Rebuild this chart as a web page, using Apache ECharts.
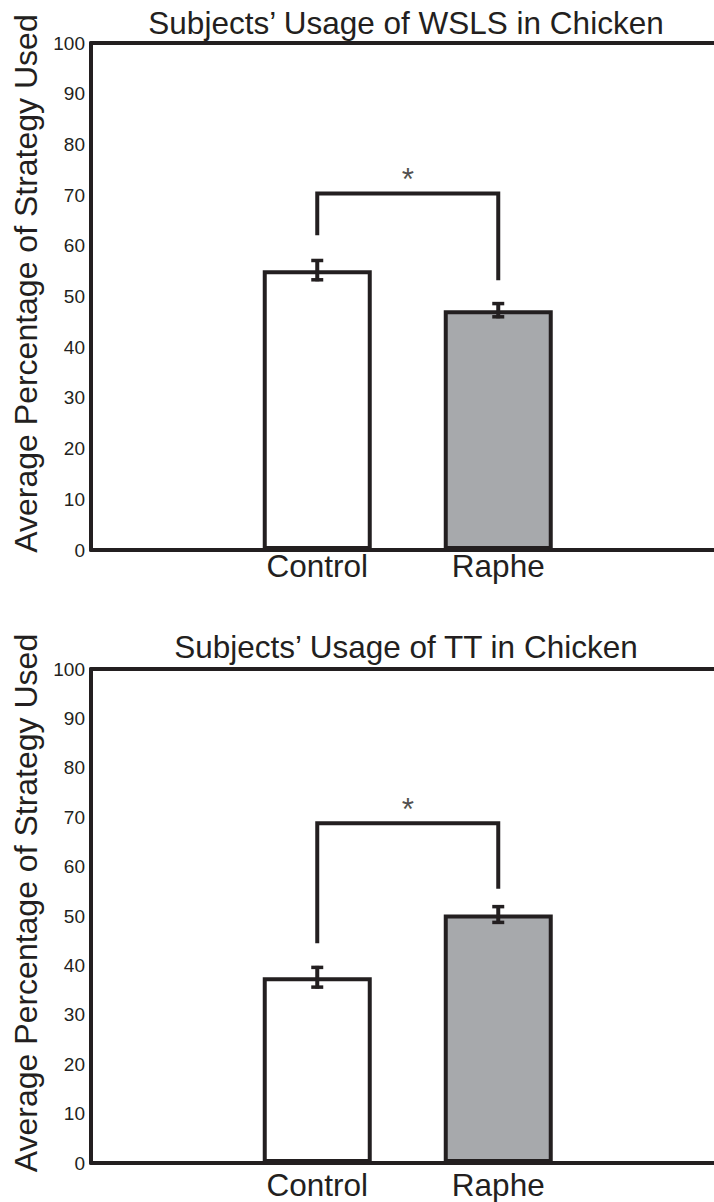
<!DOCTYPE html>
<html><head><meta charset="utf-8">
<script src="https://cdn.jsdelivr.net/npm/echarts@6/dist/echarts.min.js"></script>
<style>html,body{margin:0;padding:0;background:#fff}#c{width:714px;height:1202px}</style>
</head><body><div id="c"></div>
<script>
// ---- data ----
const categories = ['Control', 'Raphe'];
const titles = ['Subjects’ Usage of WSLS in Chicken', 'Subjects’ Usage of TT in Chicken'];
const yAxisName = 'Average Percentage of Strategy Used';
const yTicks = [0, 10, 20, 30, 40, 50, 60, 70, 80, 90, 100];
const wslsMeans = [55.2, 47.3];
const wslsErrors = [2.2, 1.6];
const wslsBracket = [62.1, 70.3, 53.2];   // left leg end, bracket height, right leg end
const ttMeans = [37.6, 50.3];
const ttErrors = [2.3, 1.9];
const ttBracket = [44.5, 68.8, 55.5];
const sigLabel = '*';

// ---- style / layout ----
const INK = '#231f20';
const FONT = '"Liberation Sans", Arial, Helvetica, sans-serif';
const BIG = 31.5;
const barFills = ['#ffffff', '#a7a9ac'];
const X_OFFSET = 1.25;               // first category position on the x value axis
const X_MAX = 623 / 181;             // axis span so that categories are 181px apart
const catX = i => i + X_OFFSET;

const panels = [
  { title: titles[0], means: wslsMeans, errors: wslsErrors, bracket: wslsBracket,
    grid: { left: 91, top: 43, width: 623, height: 507 }, titleTop: 2, catMargin: 2 },
  { title: titles[1], means: ttMeans, errors: ttErrors, bracket: ttBracket,
    grid: { left: 91, top: 669, width: 623, height: 494 }, titleTop: 626, catMargin: 8 }
];

const option = {
  animation: false,
  backgroundColor: '#ffffff',
  textStyle: { fontFamily: FONT, color: INK },
  title: panels.map(p => ({
    text: p.title, left: 401, top: p.titleTop, textAlign: 'center',
    textStyle: { fontFamily: FONT, fontSize: BIG, fontWeight: 'normal', color: INK }
  })),
  grid: panels.map(p => Object.assign({ show: false, containLabel: false }, p.grid)),
  xAxis: [],
  yAxis: panels.map((p, k) => ({
    type: 'value', gridIndex: k, min: yTicks[0], max: yTicks[yTicks.length - 1],
    interval: yTicks[1] - yTicks[0],
    name: yAxisName, nameLocation: 'middle', nameGap: 44,
    nameTextStyle: { fontFamily: FONT, fontSize: 32, color: INK, padding: [0, 0, 0, 26] },
    axisLine: { show: true, lineStyle: { color: INK, width: 4 } },
    axisTick: { show: false }, splitLine: { show: false },
    axisLabel: { fontFamily: FONT, fontSize: 19, color: INK, margin: 6 }
  })),
  series: []
};

panels.forEach((p, k) => {
  // bottom category (value) axis
  option.xAxis.push({
    type: 'value', gridIndex: k, position: 'bottom', min: 0, max: X_MAX, interval: 0.25,
    axisLine: { show: true, onZero: false, lineStyle: { color: INK, width: 4 } },
    axisTick: { show: false }, splitLine: { show: false },
    axisLabel: {
      fontFamily: FONT, fontSize: BIG, lineHeight: 28, color: INK, margin: p.catMargin, showMaxLabel: false,
      formatter: v => {
        const idx = Math.round((v - X_OFFSET) * 1000) / 1000;
        return (Number.isInteger(idx) && categories[idx] !== undefined) ? categories[idx] : '';
      }
    }
  });
  // top frame line
  option.xAxis.push({
    type: 'value', gridIndex: k, position: 'top', min: 0, max: X_MAX,
    axisLine: { show: true, onZero: false, lineStyle: { color: INK, width: 4 } },
    axisTick: { show: false }, splitLine: { show: false }, axisLabel: { show: false }
  });
});

panels.forEach((p, k) => {
  const xi = 2 * k;
  option.series.push({
    type: 'bar', xAxisIndex: xi, yAxisIndex: k, barWidth: 109, z: 2,
    itemStyle: { borderColor: INK, borderWidth: 4 },
    data: categories.map((c, i) => ({ value: [catX(i), p.means[i]], itemStyle: { color: barFills[i] } }))
  });
  option.series.push({
    type: 'custom', xAxisIndex: xi, yAxisIndex: k, z: 5,
    data: categories.map((c, i) => [catX(i), p.means[i], p.errors[i]]),
    renderItem: (params, api) => {
      const x = api.value(0), m = api.value(1), e = api.value(2);
      const t = api.coord([x, m + e]);
      const b = api.coord([x, m - e]);
      const cap = 6;
      return { type: 'group', children: [
        { type: 'line', shape: { x1: t[0], y1: t[1], x2: b[0], y2: b[1] }, style: { stroke: INK, lineWidth: 4 } },
        { type: 'line', shape: { x1: t[0] - cap, y1: t[1] + 1.5, x2: t[0] + cap, y2: t[1] + 1.5 }, style: { stroke: INK, lineWidth: 3.5 } },
        { type: 'line', shape: { x1: b[0] - cap, y1: b[1] - 1.5, x2: b[0] + cap, y2: b[1] - 1.5 }, style: { stroke: INK, lineWidth: 3.5 } }
      ]};
    }
  });
  option.series.push({
    type: 'line', xAxisIndex: xi, yAxisIndex: k, z: 4, symbol: 'none',
    lineStyle: { color: INK, width: 4, cap: 'butt', join: 'miter' },
    data: [[catX(0), p.bracket[0]], [catX(0), p.bracket[1]], [catX(1), p.bracket[1]], [catX(1), p.bracket[2]]]
  });
  option.series.push({
    type: 'scatter', xAxisIndex: xi, yAxisIndex: k, z: 4, symbolSize: 1,
    itemStyle: { color: 'transparent' },
    label: { show: true, position: 'top', distance: -2, formatter: sigLabel,
      fontFamily: FONT, fontSize: BIG, color: INK },
    data: [[(catX(0) + catX(1)) / 2, p.bracket[1]]]
  });
});

const chart = echarts.init(document.getElementById('c'), null, { renderer: 'svg' });
chart.setOption(option);
</script>
</body></html>
